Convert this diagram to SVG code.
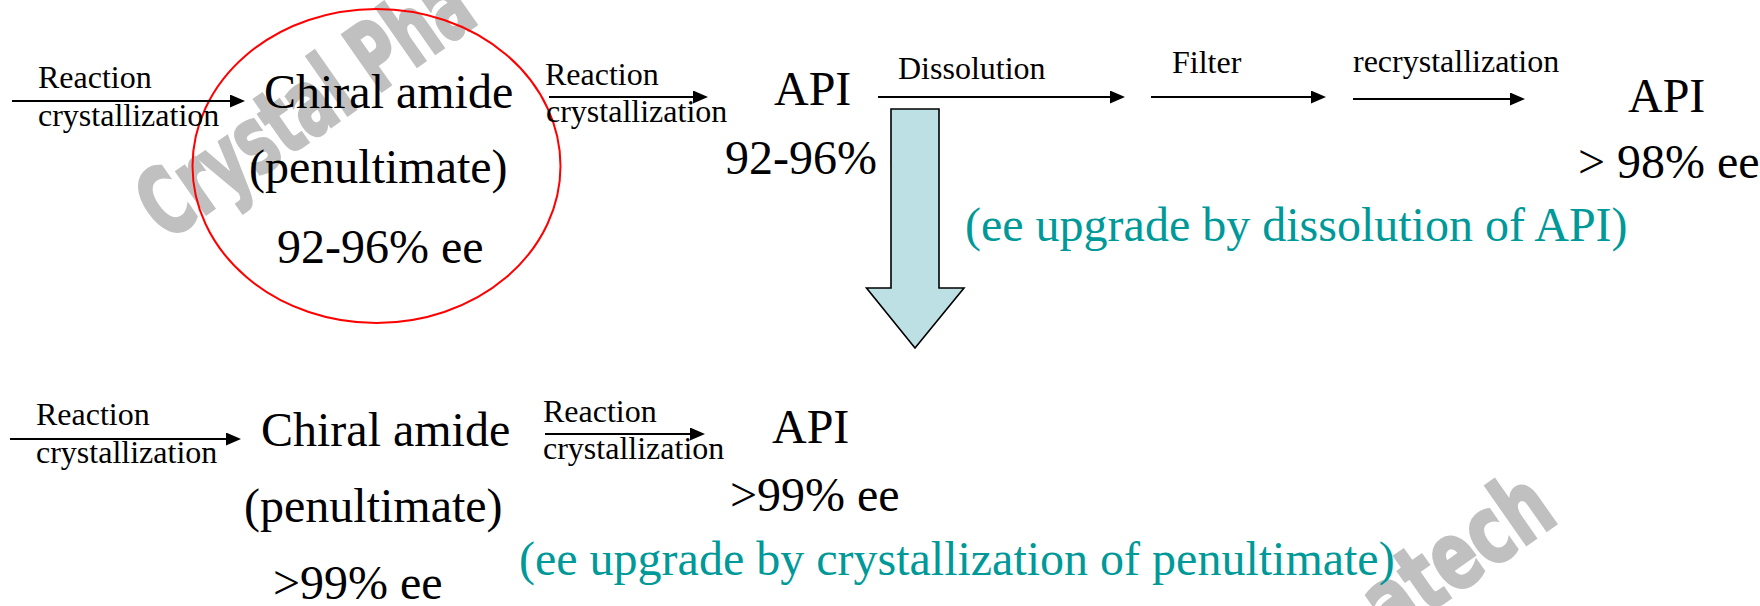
<svg xmlns="http://www.w3.org/2000/svg" width="1760" height="606" viewBox="0 0 1760 606">
  <defs>
    <marker id="head" viewBox="0 0 15 13" markerWidth="15" markerHeight="13" markerUnits="userSpaceOnUse" refX="5" refY="6.5" orient="auto">
      <path d="M0,0 L15,6.5 L0,13 z" fill="#000"/>
    </marker>
    <style>
      .big { font-family: "Liberation Serif", "Times New Roman", serif; font-size: 48px; fill: #000; }
      .lbl { font-family: "Liberation Serif", "Times New Roman", serif; font-size: 32px; fill: #000; }
      .note { font-family: "Liberation Serif", "Times New Roman", serif; font-size: 48px; fill: #009999; }
      .mark { font-family: "DejaVu Sans", "Liberation Sans", sans-serif; font-weight: bold; font-size: 94px; fill: #c0c0c0; stroke: #c0c0c0; stroke-width: 3; stroke-linejoin: miter; }
      .flow { stroke: #000; stroke-width: 2.2; fill: none; marker-end: url(#head); }
    </style>
  </defs>

  <rect width="1760" height="606" fill="#fff"/>

  <!-- background watermark -->
  <g id="watermark">
    <text class="mark" transform="translate(166,242) rotate(-35)" textLength="384" lengthAdjust="spacingAndGlyphs">Crystal Pha</text>
    <text class="mark" transform="translate(1390,640) rotate(-35)" textLength="208" lengthAdjust="spacingAndGlyphs">atech</text>
  </g>

  <!-- process steps, top route -->
  <g id="amide-top">
    <ellipse cx="376.5" cy="166" rx="184" ry="157" fill="none" stroke="#ff0000" stroke-width="2"/>
    <text class="big" x="264" y="108">Chiral amide</text>
    <text class="big" x="249" y="183">(penultimate)</text>
    <text class="big" x="277" y="263">92-96% ee</text>
  </g>

  <g id="api-top">
    <text class="big" x="774" y="105">API</text>
    <text class="big" x="725" y="174">92-96% ee</text>
  </g>

  <g id="api-final">
    <text class="big" x="1628" y="112">API</text>
    <text class="big" x="1578" y="178">&gt; 98% ee</text>
  </g>

  <!-- process steps, bottom route -->
  <g id="amide-bottom">
    <text class="big" x="261" y="446">Chiral amide</text>
    <text class="big" x="244" y="522">(penultimate)</text>
    <text class="big" x="273" y="599">&gt;99% ee</text>
  </g>

  <g id="api-bottom">
    <text class="big" x="772" y="443">API</text>
    <text class="big" x="730" y="511">&gt;99% ee</text>
  </g>

  <!-- connectors -->
  <g id="connectors">
    <line class="flow" x1="12" y1="101" x2="235" y2="101"/>
    <text class="lbl" x="38" y="88">Reaction</text>
    <text class="lbl" x="38" y="126">crystallization</text>

    <line class="flow" x1="549" y1="97" x2="698" y2="97"/>
    <text class="lbl" x="545" y="85">Reaction</text>
    <text class="lbl" x="546" y="122">crystallization</text>

    <line class="flow" x1="878" y1="97" x2="1115" y2="97"/>
    <text class="lbl" x="898" y="79">Dissolution</text>

    <line class="flow" x1="1151" y1="97" x2="1316" y2="97"/>
    <text class="lbl" x="1172" y="73">Filter</text>

    <line class="flow" x1="1353" y1="99" x2="1515" y2="99"/>
    <text class="lbl" x="1353" y="72">recrystallization</text>

    <line class="flow" x1="10" y1="439" x2="231" y2="439"/>
    <text class="lbl" x="36" y="425">Reaction</text>
    <text class="lbl" x="36" y="463">crystallization</text>

    <line class="flow" x1="545" y1="434" x2="695" y2="434"/>
    <text class="lbl" x="543" y="422">Reaction</text>
    <text class="lbl" x="543" y="459">crystallization</text>

    <!-- block arrow linking the two routes -->
    <path id="route-switch" d="M891,109 L939,109 L939,288 L964,288 L915,348 L866.5,288 L891,288 z" fill="#bce0e3" stroke="#000" stroke-width="1.6" stroke-linejoin="miter"/>
  </g>

  <!-- notes -->
  <text class="note" x="965" y="241">(ee upgrade by dissolution of API)</text>
  <text class="note" x="519" y="575">(ee upgrade by crystallization of penultimate)</text>
</svg>
